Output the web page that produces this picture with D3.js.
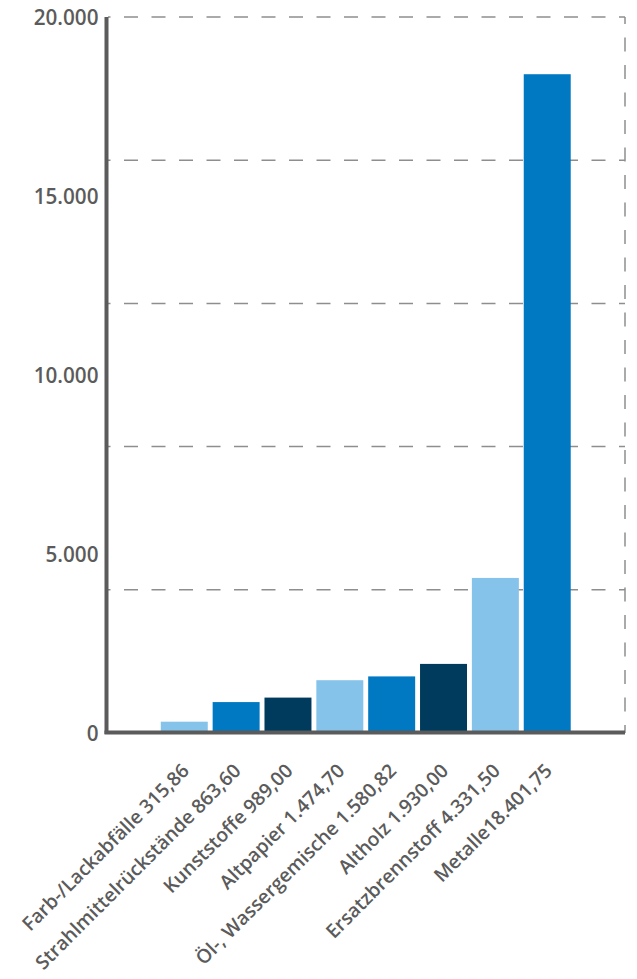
<!DOCTYPE html>
<html>
<head>
<meta charset="utf-8">
<script src="https://cdn.jsdelivr.net/npm/d3@7/dist/d3.min.js"></script>
<style>
  html, body { margin: 0; padding: 0; background: #fff; }
  svg { display: block; }
  text { font-family: "Open Sans", "Noto Sans", sans-serif; font-weight: 600; fill: #5b5b5b; }
</style>
</head>
<body>
<svg id="chart" width="637" height="979"></svg>
<script>
// Abfallmengen nach Fraktion
const categories = [
  "Farb-/Lackabfälle 315,86",
  "Strahlmittelrückstände 863,60",
  "Kunststoffe 989,00",
  "Altpapier 1.474,70",
  "Öl-, Wassergemische 1.580,82",
  "Altholz 1.930,00",
  "Ersatzbrennstoff 4.331,50",
  "Metalle18.401,75"
];
const values = [315.86, 863.60, 989.00, 1474.70, 1580.82, 1930.00, 4331.50, 18401.75];
const barColors = ["#86c3ea", "#0079c2", "#003a5d", "#86c3ea", "#0079c2", "#003a5d", "#86c3ea", "#0079c2"];
const yTickValues = [0, 5000, 10000, 15000, 20000];
const gridValues = [4000, 8000, 12000, 16000, 20000];

const de = d3.formatLocale({ decimal: ",", thousands: ".", grouping: [3], currency: ["", " €"] });
const fmt = de.format(",.0f");

const plot = { left: 106.5, right: 625, top: 17, bottom: 733 };
const svg = d3.select("#chart");

const x = d3.scaleBand()
  .domain(categories)
  .range([plot.left, plot.right])
  .paddingInner(0.094)
  .paddingOuter(1.047);

const y = d3.scaleLinear().domain([0, 20000]).range([plot.bottom, plot.top]);

// dashed grid lines
const grid = svg.append("g");
grid.selectAll("line.h")
  .data(gridValues)
  .join("line")
  .attr("x1", plot.left + 1.5)
  .attr("x2", plot.right)
  .attr("y1", d => y(d))
  .attr("y2", d => y(d))
  .attr("stroke", "#8e8e8e")
  .attr("stroke-width", 1.5)
  .attr("stroke-dasharray", "14,13.5")
  .attr("stroke-dashoffset", 11.5);

// right dashed frame
grid.append("line")
  .attr("x1", plot.right).attr("x2", plot.right)
  .attr("y1", y(20000)).attr("y2", y(0))
  .attr("stroke", "#8e8e8e")
  .attr("stroke-width", 1.5)
  .attr("stroke-dasharray", "14,13.5")
  .attr("stroke-dashoffset", 7);

// bars
svg.append("g").selectAll("rect")
  .data(values)
  .join("rect")
  .attr("x", (d, i) => x(categories[i]))
  .attr("width", x.bandwidth())
  .attr("y", d => y(d))
  .attr("height", d => y(0) - y(d))
  .attr("fill", (d, i) => barColors[i]);

// axis lines
svg.append("line")
  .attr("x1", plot.left).attr("x2", plot.left)
  .attr("y1", plot.top).attr("y2", plot.bottom + 1)
  .attr("stroke", "#5b5b5b").attr("stroke-width", 4);
svg.append("line")
  .attr("x1", plot.left - 2).attr("x2", plot.right)
  .attr("y1", plot.bottom - 0.5).attr("y2", plot.bottom - 0.5)
  .attr("stroke", "#5b5b5b").attr("stroke-width", 4);

// y tick labels
const yAxis = d3.axisLeft(y).tickValues(yTickValues).tickFormat(fmt).tickSize(0).tickPadding(0);
const ya = svg.append("g").attr("transform", `translate(${plot.left - 8},0)`).call(yAxis);
ya.select(".domain").remove();
ya.selectAll("text")
  .attr("font-size", 20.7)
  .attr("font-family", null)
  .attr("fill", "#5b5b5b")
  .attr("dy", "0.35em");

// x labels, rotated
const xAxis = d3.axisBottom(x).tickSize(0).tickPadding(0);
const xa = svg.append("g").attr("transform", `translate(0,${plot.bottom})`).call(xAxis);
xa.select(".domain").remove();
xa.selectAll(".tick text")
  .attr("font-size", 19.3)
  .attr("font-family", null)
  .attr("fill", "#5b5b5b")
  .attr("text-anchor", "end")
  .attr("y", 0)
  .attr("dy", 0)
  .attr("transform", "translate(6,39) rotate(-45)");
</script>
</body>
</html>
